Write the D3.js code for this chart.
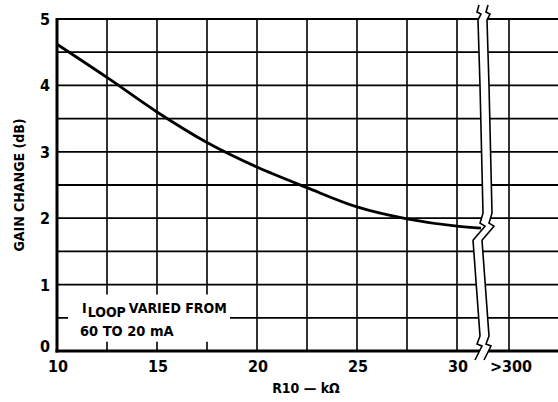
<!DOCTYPE html>
<html>
<head>
<meta charset="utf-8">
<script src="https://cdn.jsdelivr.net/npm/d3@7"></script>
<style>
  body { margin: 0; background: #fff; }
  svg text { font-family: "DejaVu Sans Condensed", "Liberation Sans Narrow", sans-serif; font-weight: bold; fill: #000; }
</style>
</head>
<body>
<div id="chart"></div>
<script>
// ---- data ----
var rValues   = [10, 12.5, 15, 17.5, 20, 22.5, 25, 27.5, 30, 31.2];
var gainDb    = [4.62, 4.12, 3.6, 3.14, 2.77, 2.46, 2.17, 1.99, 1.88, 1.85];
var xTickVals = [10, 15, 20, 25, 30];
var yTickVals = [0, 1, 2, 3, 4, 5];
var overLabel = ">300";   // value after the axis break
var overPos   = 32.6;     // where it sits on the (compressed) axis
var breakPos  = 31.15;

var W = 558, H = 402;
var margin = {top: 19, right: 0, bottom: 51, left: 57};

var x = d3.scaleLinear().domain([10, 30]).range([margin.left, 457]);
var y = d3.scaleLinear().domain([0, 5]).range([H - margin.bottom, margin.top]);

var svg = d3.select("#chart").append("svg")
    .attr("width", W).attr("height", H);

svg.append("rect").attr("width", W).attr("height", H).attr("fill", "#fff");

// grid
var gridX = d3.range(10, 30.01, 2.5).concat([overPos]);
var gridY = d3.range(0.5, 5.01, 0.5);

svg.append("g").selectAll("line").data(gridX).enter().append("line")
    .attr("x1", function(d) { return x(d); }).attr("x2", function(d) { return x(d); })
    .attr("y1", y(0)).attr("y2", y(5))
    .attr("stroke", "#000").attr("stroke-width", 1.6);

svg.append("g").selectAll("line").data(gridY).enter().append("line")
    .attr("x1", x(10)).attr("x2", W)
    .attr("y1", function(d) { return y(d); }).attr("y2", function(d) { return y(d); })
    .attr("stroke", "#000").attr("stroke-width", function(d) { return d === 5 ? 2.2 : 1.8; });

// axes lines
svg.append("line").attr("x1", x(10)).attr("x2", x(10))
    .attr("y1", y(5) - 1).attr("y2", y(0) + 1.5)
    .attr("stroke", "#000").attr("stroke-width", 3);
svg.append("line").attr("x1", x(10) - 1.5).attr("x2", W)
    .attr("y1", y(0)).attr("y2", y(0))
    .attr("stroke", "#000").attr("stroke-width", 3);

// curve
var pts = rValues.map(function(r, i) { return [r, gainDb[i]]; });
var line = d3.line()
    .x(function(d) { return x(d[0]); })
    .y(function(d) { return y(d[1]); })
    .curve(d3.curveMonotoneX);
svg.append("path").datum(pts)
    .attr("d", line)
    .attr("fill", "none").attr("stroke", "#000").attr("stroke-width", 2.8);

// axis break (two jagged lines with white between)
var xb = x(breakPos);
var breakShape = [
  [-1, y(5) - 14], [-3, y(5) - 7], [1, y(5) - 5], [-2, y(5) + 1],
  [0, y(4)], [3, y(1.88) - 13], [0, y(1.88) - 3], [5, y(1.88)], [-7, y(1.88) + 14],
  [0, y(0) - 15], [-3, y(0) - 7], [2, y(0) - 5], [-5, y(0) + 9]
];
var gap = 9;
var leftPts = breakShape.map(function(p) { return [xb + p[0], p[1]]; });
var rightPts = breakShape.map(function(p) { return [xb + p[0] + gap, p[1]]; });

svg.append("path")
    .attr("d", d3.line()(leftPts.concat(rightPts.slice().reverse())) + "Z")
    .attr("fill", "#fff").attr("stroke", "none");
[leftPts, rightPts].forEach(function(p) {
  svg.append("path").attr("d", d3.line()(p))
      .attr("fill", "none").attr("stroke", "#000").attr("stroke-width", 1.6);
});

// annotation
svg.append("rect")
    .attr("x", x(10.55)).attr("y", y(0.85))
    .attr("width", x(18.65) - x(10.55)).attr("height", y(0.14) - y(0.85))
    .attr("fill", "#fff");
var note = svg.append("text").attr("x", 82).attr("y", 313).style("font-size", "14px");
note.append("tspan").text("I");
note.append("tspan").attr("dy", 4).attr("dx", 1).text("LOOP");
note.append("tspan").attr("dy", -4).attr("dx", 3).text("VARIED FROM");
svg.append("text").attr("x", 80).attr("y", 336).style("font-size", "14.5px").text("60 TO 20 mA");

// tick labels
svg.append("g").selectAll("text").data(yTickVals).enter().append("text")
    .attr("x", 50).attr("y", function(d) { return y(d) + (d === 0 ? 1 : 6); })
    .attr("text-anchor", "end").style("font-size", "16px")
    .text(function(d) { return d; });

svg.append("g").selectAll("text").data(xTickVals).enter().append("text")
    .attr("x", function(d) { return x(d) + 1; }).attr("y", 372)
    .attr("text-anchor", "middle").style("font-size", "16px")
    .text(function(d) { return d; });

svg.append("text").attr("x", x(overPos) + 2).attr("y", 372)
    .attr("text-anchor", "middle").style("font-size", "16px")
    .text(overLabel);

// axis titles
svg.append("text").attr("x", 306).attr("y", 393)
    .attr("text-anchor", "middle").style("font-size", "14px")
    .text("R10 \u2014 k\u03A9");

svg.append("text")
    .attr("transform", "translate(24,185) rotate(-90)")
    .attr("text-anchor", "middle").style("font-size", "14px")
    .text("GAIN CHANGE (dB)");
</script>
</body>
</html>
